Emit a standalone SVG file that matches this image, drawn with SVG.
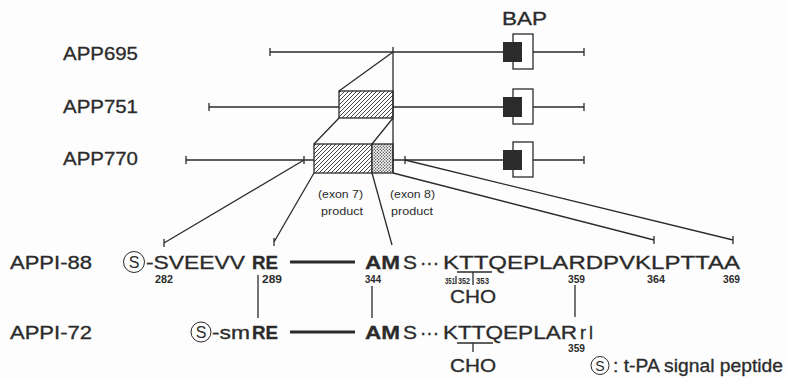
<svg xmlns="http://www.w3.org/2000/svg" width="786" height="379" viewBox="0 0 786 379">
<defs>
<pattern id="hatch" patternUnits="userSpaceOnUse" width="4" height="4"><path d="M-1,1 L1,-1 M0,4 L4,0 M3,5 L5,3" stroke="#333" stroke-width="0.9"/></pattern>
<pattern id="dots" patternUnits="userSpaceOnUse" width="3" height="3"><rect width="3" height="3" fill="#fff"/><circle cx="0.75" cy="0.75" r="0.7" fill="#333"/><circle cx="2.25" cy="2.25" r="0.7" fill="#333"/></pattern>
</defs>
<style>
.ln{stroke:#2b2b2b;stroke-width:1.3;fill:none}
.thick{stroke:#2b2b2b;stroke-width:3;fill:none}
.t{font-family:"Liberation Sans",Arial,sans-serif;font-size:18px;fill:#2b2b2b;stroke:#2b2b2b;stroke-width:0.3}
.b{font-weight:bold}
.n{font-family:"Liberation Sans",Arial,sans-serif;font-size:11px;font-weight:bold;fill:#2b2b2b}
.m{font-family:"Liberation Sans",Arial,sans-serif;font-size:8.5px;font-weight:bold;fill:#2b2b2b}
.s{font-family:"Liberation Sans",Arial,sans-serif;font-size:11px;fill:#2b2b2b}
.blk{fill:#2b2b2b}
.brk{fill:#fff;stroke:#2b2b2b;stroke-width:1.3}
.circ{fill:none;stroke:#2b2b2b;stroke-width:1}
</style>
<rect width="786" height="379" fill="#fdfdfd"/>

<g id="app695">
<text class="t" x="63" y="60" textLength="75" lengthAdjust="spacingAndGlyphs">APP695</text>
<path class="ln" d="M270,52 H584 M270,48 V56 M584,48 V56"/>
<rect class="brk" x="513" y="34" width="20" height="35"/>
<rect class="blk" x="503" y="42" width="19" height="20"/>
</g>
<g id="bap">
<text class="t" x="502" y="25" textLength="45" lengthAdjust="spacingAndGlyphs">BAP</text>
</g>

<g id="app751">
<text class="t" x="63" y="113" textLength="75" lengthAdjust="spacingAndGlyphs">APP751</text>
<path class="ln" d="M209,107 H339 M393,107 H584 M209,103 V111 M584,103 V111"/>
<rect x="339" y="91" width="54" height="27" fill="url(#hatch)" stroke="#2b2b2b" stroke-width="1.3"/>
<rect class="brk" x="513" y="89" width="20" height="35"/>
<rect class="blk" x="503" y="97" width="19" height="20"/>
</g>

<g id="app770">
<text class="t" x="63" y="165" textLength="75" lengthAdjust="spacingAndGlyphs">APP770</text>
<path class="ln" d="M186,160 H314 M393,160 H584 M186,156 V164 M304,156 V164 M405,156 V164 M584,156 V164"/>
<rect x="314" y="144" width="58" height="29" fill="url(#hatch)" stroke="#2b2b2b" stroke-width="1.3"/>
<rect x="372" y="144" width="21" height="29" fill="url(#dots)" stroke="#2b2b2b" stroke-width="1.3"/>
<rect class="brk" x="513" y="142" width="20" height="35"/>
<rect class="blk" x="503" y="150" width="19" height="20"/>
<text class="s" x="318" y="198" textLength="45" lengthAdjust="spacingAndGlyphs">(exon 7)</text>
<text class="s" x="321" y="215" textLength="42" lengthAdjust="spacingAndGlyphs">product</text>
<text class="s" x="390" y="198" textLength="45" lengthAdjust="spacingAndGlyphs">(exon 8)</text>
<text class="s" x="391" y="215" textLength="42" lengthAdjust="spacingAndGlyphs">product</text>
</g>

<g id="connectors">
<path class="ln" d="M393,47 V173 M339,91 L393,52 M314,144 L339,118 M372,144 L393,118"/>
<path class="ln" d="M304,160 L164,243 M164,239 V247"/>
<path class="ln" d="M314,173 L274,242 M274,238 V246"/>
<path class="ln" d="M372,173 L392,245"/>
<path class="ln" d="M393,173 L654,240 M654,236 V244"/>
<path class="ln" d="M405,160 L733,240 M733,236 V244"/>
<path class="ln" d="M258,275 V318 M372,286 V318 M575,285 V317"/>
</g>

<g id="appi88">
<text class="t" x="10" y="269" textLength="82" lengthAdjust="spacingAndGlyphs">APPI-88</text>
<circle class="circ" cx="134" cy="262" r="10.5"/>
<text class="t" x="134" y="268" text-anchor="middle" style="font-size:16px;stroke-width:0">S</text>
<text class="t" x="146" y="269" textLength="99" lengthAdjust="spacingAndGlyphs">-SVEEVV</text>
<text class="t b" x="252" y="269" textLength="26" lengthAdjust="spacingAndGlyphs">RE</text>
<path class="thick" d="M290,262 H355"/>
<text class="t b" x="365" y="269" textLength="35" lengthAdjust="spacingAndGlyphs">AM</text>
<text class="t" x="403" y="269" textLength="14" lengthAdjust="spacingAndGlyphs">S</text>
<text class="t" x="420" y="269" textLength="19" lengthAdjust="spacingAndGlyphs">···</text>
<text class="t" x="443" y="269" textLength="297" lengthAdjust="spacingAndGlyphs">KTTQEPLARDPVKLPTTAA</text>
<text class="n" x="155" y="283" textLength="18" lengthAdjust="spacingAndGlyphs">282</text>
<text class="n" x="262" y="283" textLength="20" lengthAdjust="spacingAndGlyphs">289</text>
<text class="n" x="365" y="283" textLength="16" lengthAdjust="spacingAndGlyphs">344</text>
<text class="m" x="445" y="284" textLength="10" lengthAdjust="spacingAndGlyphs">351</text>
<text class="m" x="458" y="284" textLength="12" lengthAdjust="spacingAndGlyphs">352</text>
<text class="m" x="476" y="284" textLength="13" lengthAdjust="spacingAndGlyphs">353</text>
<path class="ln" stroke-width="1" d="M457,272 H492 M473,272 V285 M456,276 V284"/>
<text class="n" x="568" y="283" textLength="17" lengthAdjust="spacingAndGlyphs">359</text>
<text class="n" x="647" y="283" textLength="18" lengthAdjust="spacingAndGlyphs">364</text>
<text class="n" x="723" y="283" textLength="17" lengthAdjust="spacingAndGlyphs">369</text>
<text class="t" x="450" y="303" textLength="46" lengthAdjust="spacingAndGlyphs">CHO</text>
</g>

<g id="appi72">
<text class="t" x="10" y="339" textLength="82" lengthAdjust="spacingAndGlyphs">APPI-72</text>
<circle class="circ" cx="201" cy="332" r="10"/>
<text class="t" x="201" y="338" text-anchor="middle" style="font-size:16px;stroke-width:0">S</text>
<text class="t" x="212" y="339" textLength="38" lengthAdjust="spacingAndGlyphs">-sm</text>
<text class="t b" x="252" y="339" textLength="26" lengthAdjust="spacingAndGlyphs">RE</text>
<path class="thick" d="M290,332 H355"/>
<text class="t b" x="365" y="339" textLength="35" lengthAdjust="spacingAndGlyphs">AM</text>
<text class="t" x="403" y="339" textLength="14" lengthAdjust="spacingAndGlyphs">S</text>
<text class="t" x="420" y="339" textLength="19" lengthAdjust="spacingAndGlyphs">···</text>
<text class="t" x="443" y="339" textLength="134" lengthAdjust="spacingAndGlyphs">KTTQEPLAR</text>
<text class="t" x="580" y="339" textLength="13" lengthAdjust="spacing">rl</text>
<path class="ln" stroke-width="1" d="M457,343 H493 M473,343 V352"/>
<text class="n" x="568" y="352" textLength="17" lengthAdjust="spacingAndGlyphs">359</text>
<text class="t" x="450" y="372" textLength="46" lengthAdjust="spacingAndGlyphs">CHO</text>
</g>

<g id="legend">
<circle class="circ" cx="600" cy="365.5" r="9"/>
<text class="t" x="600" y="371" text-anchor="middle" style="font-size:14px;stroke-width:0">S</text>
<text class="t" x="613" y="372" textLength="170" lengthAdjust="spacingAndGlyphs">: t-PA signal peptide</text>
</g>
</svg>
